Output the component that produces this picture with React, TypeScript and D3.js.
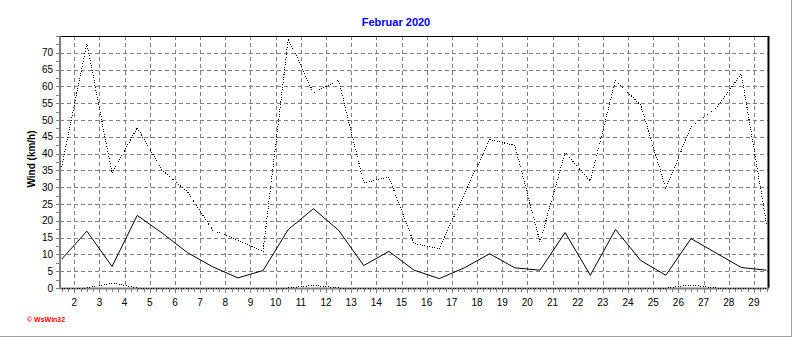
import React from "react";
import * as d3 from "d3";

const days: number[] = [1, 2, 3, 4, 5, 6, 7, 8, 9, 10, 11, 12, 13, 14, 15, 16, 17, 18, 19, 20, 21, 22, 23, 24, 25, 26, 27, 28, 29];
const windMean: number[] = [8.6, 16.9, 6.4, 21.6, 16.3, 10.5, 6.3, 3.0, 5.2, 17.4, 23.6, 17.2, 6.7, 10.9, 5.3, 2.8, 6.0, 10.2, 6.0, 5.3, 16.5, 3.8, 17.4, 8.2, 3.8, 14.7, 10.4, 6.1, 5.3];
const windMax: number[] = [36.0, 72.7, 34.2, 47.7, 35.0, 28.6, 17.2, 14.2, 10.9, 74.2, 58.1, 61.8, 31.3, 33.0, 13.2, 11.7, 28.1, 44.1, 42.5, 13.7, 40.3, 31.8, 61.8, 54.4, 29.6, 47.9, 53.4, 63.8, 19.1];
const windMin: number[] = [0, 0, 1.5, 0, 0, 0, 0, 0, 0, 0, 0.8, 0, 0, 0, 0, 0, 0, 0, 0, 0, 0, 0, 0, 0, 0, 0.9, 0, 0, 0];
const xTickLabels: number[] = [2, 3, 4, 5, 6, 7, 8, 9, 10, 11, 12, 13, 14, 15, 16, 17, 18, 19, 20, 21, 22, 23, 24, 25, 26, 27, 28, 29];
const yTickLabels: number[] = [0, 5, 10, 15, 20, 25, 30, 35, 40, 45, 50, 55, 60, 65, 70];
const title = "Februar 2020";
const yTitle = "Wind (km/h)";

export default function App() {
  const W = 792, H = 337;
  const left = 60, right = 768, top = 36, bottom = 288;
  const x = d3.scaleLinear().domain([1.5, 29.5]).range([61.7, 766.5]);
  const y = d3.scaleLinear().domain([0, 75]).range([bottom, top]);
  const line = (vals: number[]) =>
    d3.line<number>().x((_, i) => x(days[i] + 0.5)).y((v) => y(v))(vals) || "";
  const font = "'Liberation Sans', Arial, sans-serif";
  const minorX: number[] = d3.range(1.5, 29.51, 0.25);
  const minorY: number[] = d3.range(0, 75.01, 2.5);
  return (
    <svg width={W} height={H} style={{ position: "absolute", left: 0, top: 0, background: "#fff" }}>
      <rect x={0} y={0} width={W} height={H} fill="#fff" />
      <line x1={791.5} y1={0} x2={791.5} y2={337} stroke="#a0a0a0" />
      <line x1={0} y1={336.5} x2={792} y2={336.5} stroke="#a0a0a0" />
      <text x={396} y={26} textAnchor="middle" fontFamily={font} fontWeight="bold" fontSize={11} fill="#0000ff">{title}</text>
      {/* grid */}
      {yTickLabels.filter((v) => v > 0).map((v) => (
        <line key={"gy" + v} x1={left} x2={right} y1={Math.round(y(v)) + 0.5} y2={Math.round(y(v)) + 0.5} stroke="#808080" strokeDasharray="4,3" />
      ))}
      {xTickLabels.map((d) => (
        <line key={"gx" + d} x1={Math.round(x(d)) + 0.5} x2={Math.round(x(d)) + 0.5} y1={top} y2={bottom} stroke="#808080" strokeDasharray="4,3" />
      ))}
      {/* frame */}
      <line x1={left} x2={right + 1} y1={top + 0.5} y2={top + 0.5} stroke="#000" />
      <line x1={right + 0.5} x2={right + 0.5} y1={top} y2={bottom} stroke="#000" strokeWidth={2} />
      {/* axes */}
      <line x1={left} x2={left} y1={top} y2={bottom + 1} stroke="#808080" strokeWidth={2} />
      <line x1={left - 1} x2={right + 1} y1={bottom + 0.5} y2={bottom + 0.5} stroke="#808080" strokeWidth={2} />
      {minorY.map((v, i) => (
        <line key={"ty" + i} x1={56} x2={59} y1={Math.round(y(v)) + 0.5} y2={Math.round(y(v)) + 0.5} stroke="#808080" />
      ))}
      {minorX.map((d, i) => (
        <line key={"tx" + i} x1={Math.round(x(d)) + 0.5} x2={Math.round(x(d)) + 0.5} y1={289} y2={Number.isInteger(d) ? 293 : 292} stroke="#808080" />
      ))}
      {/* labels */}
      {yTickLabels.map((v) => (
        <text key={"ly" + v} x={53} y={y(v) + 3.5} textAnchor="end" fontFamily={font} fontSize={10} fill="#000">{v}</text>
      ))}
      {xTickLabels.map((d) => (
        <text key={"lx" + d} x={x(d)} y={306} textAnchor="middle" fontFamily={font} fontSize={10} fill="#000">{d}</text>
      ))}
      <text transform="translate(35,159) rotate(-90)" textAnchor="middle" fontFamily={font} fontWeight="bold" fontSize={10} fill="#000">{yTitle}</text>
      <text x={27} y={322} fontFamily={font} fontWeight="bold" fontSize={7} fill="#ff0000">© WsWin32</text>
      {/* series */}
      <path d={line(windMax)} fill="none" stroke="#000" strokeWidth={1} strokeDasharray="1,1.5" shapeRendering="crispEdges" />
      <path d={line(windMean)} fill="none" stroke="#000" strokeWidth={1} />
      <path d={line(windMin)} fill="none" stroke="#000" strokeWidth={1} strokeDasharray="1,1.5" shapeRendering="crispEdges" />
    </svg>
  );
}
